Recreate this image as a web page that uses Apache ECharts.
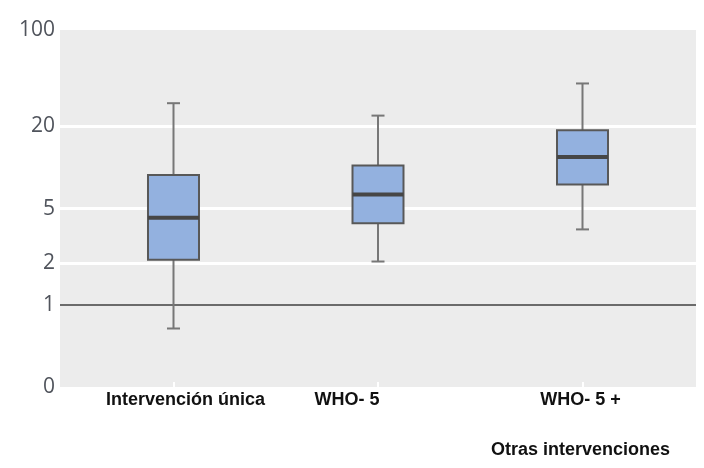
<!DOCTYPE html>
<html>
<head>
<meta charset="utf-8">
<script src="https://cdn.jsdelivr.net/npm/echarts@6/dist/echarts.min.js"></script>
<style>
  html, body { margin: 0; padding: 0; background: #fff; }
  #chart { width: 704px; height: 468px; }
</style>
</head>
<body>
<div id="chart"></div>
<script>
// datos (escala logarítmica)
var categories = ['Intervención única', 'WHO- 5', 'WHO- 5 +\n\nOtras intervenciones'];
var whiskerLow = [0.67, 2.06, 3.53];
var q1 = [2.12, 3.92, 7.48];
var median = [4.29, 6.35, 11.9];
var q3 = [8.79, 10.3, 18.6];
var whiskerHigh = [29.3, 23.8, 40.8];
var yTickLabels = [0, 1, 2, 5, 20, 100];
var gridValues = [2, 5, 20];
var refValue = 1;

var AXIS_MIN = -0.6; // posición de la marca "0"
function toAxis(v) {
  return v === 0 ? AXIS_MIN : Math.log10(v);
}

var boxData = categories.map(function (c, i) {
  return [i, toAxis(whiskerLow[i]), toAxis(q1[i]), toAxis(median[i]), toAxis(q3[i]), toAxis(whiskerHigh[i])];
});

var chart = echarts.init(document.getElementById('chart'));

function renderBox(params, api) {
  var x = api.value(0);
  var pLow = api.coord([x, api.value(1)]);
  var pQ1 = api.coord([x, api.value(2)]);
  var pMed = api.coord([x, api.value(3)]);
  var pQ3 = api.coord([x, api.value(4)]);
  var pHigh = api.coord([x, api.value(5)]);
  var halfBox = 25.5;
  var halfCap = 6.5;
  var cx = pMed[0];
  var whisker = { stroke: '#777', lineWidth: 2 };
  return {
    type: 'group',
    children: [
      { type: 'line', shape: { x1: cx, y1: pHigh[1], x2: cx, y2: pQ3[1] }, style: whisker },
      { type: 'line', shape: { x1: cx, y1: pLow[1], x2: cx, y2: pQ1[1] }, style: whisker },
      { type: 'line', shape: { x1: cx - halfCap, y1: pHigh[1], x2: cx + halfCap, y2: pHigh[1] }, style: whisker },
      { type: 'line', shape: { x1: cx - halfCap, y1: pLow[1], x2: cx + halfCap, y2: pLow[1] }, style: whisker },
      {
        type: 'rect',
        shape: { x: cx - halfBox, y: pQ3[1], width: halfBox * 2, height: pQ1[1] - pQ3[1] },
        style: { fill: '#93b1df', stroke: '#585858', lineWidth: 2 }
      },
      {
        type: 'line',
        shape: { x1: cx - halfBox, y1: pMed[1], x2: cx + halfBox, y2: pMed[1] },
        style: { stroke: '#464646', lineWidth: 4 }
      }
    ]
  };
}

var markLines = gridValues.map(function (v) {
  return { yAxis: toAxis(v), lineStyle: { color: '#ffffff', width: 3, type: 'solid' } };
});
markLines.push({ yAxis: toAxis(refValue), lineStyle: { color: '#6b6b6b', width: 2, type: 'solid' } });

chart.setOption({
  animation: false,
  grid: {
    left: 60, right: 8, top: 30, bottom: 81,
    show: true, backgroundColor: '#ececec', borderWidth: 0
  },
  xAxis: {
    type: 'value',
    min: -0.555,
    max: 2.555,
    splitLine: { show: false },
    axisLine: { show: false, onZero: false },
    axisTick: {
      show: true, inside: true, length: 5,
      customValues: [0, 1, 2],
      lineStyle: { color: '#ffffff', width: 2 }
    },
    axisLabel: {
      customValues: [0, 1, 2],
      margin: 1,
      formatter: function (v) {
        var i = Math.round(v);
        var key = ['a', 'b', 'c'][i];
        return categories[i].split('\n').map(function (s) {
          return '{' + key + '|' + (s || ' ') + '}';
        }).join('\n');
      },
      rich: {
        a: { fontFamily: 'Liberation Sans', fontWeight: 'bold', fontSize: 18, color: '#111', lineHeight: 25, padding: [0, 0, 0, 24] },
        b: { fontFamily: 'Liberation Sans', fontWeight: 'bold', fontSize: 18, color: '#111', lineHeight: 25, padding: [0, 62, 0, 0] },
        c: { fontFamily: 'Liberation Sans', fontWeight: 'bold', fontSize: 18, color: '#111', lineHeight: 25, padding: [0, 4, 0, 0] }
      }
    }
  },
  yAxis: {
    type: 'value',
    min: AXIS_MIN,
    max: 2,
    splitLine: { show: false },
    axisLine: { show: false },
    axisTick: { show: false },
    axisLabel: {
      customValues: yTickLabels.map(toAxis),
      margin: 5,
      fontFamily: 'Open Sans',
      fontSize: 21,
      color: '#50545c',
      formatter: function (v) {
        var best = yTickLabels[0];
        yTickLabels.forEach(function (t) {
          if (Math.abs(toAxis(t) - v) < Math.abs(toAxis(best) - v)) best = t;
        });
        return String(best);
      }
    }
  },
  series: [
    {
      type: 'custom',
      renderItem: renderBox,
      encode: { x: 0, y: [1, 2, 3, 4, 5] },
      data: boxData,
      z: 3,
      markLine: {
        silent: true,
        symbol: 'none',
        label: { show: false },
        z: 1,
        data: markLines
      }
    }
  ]
});
</script>
</body>
</html>
